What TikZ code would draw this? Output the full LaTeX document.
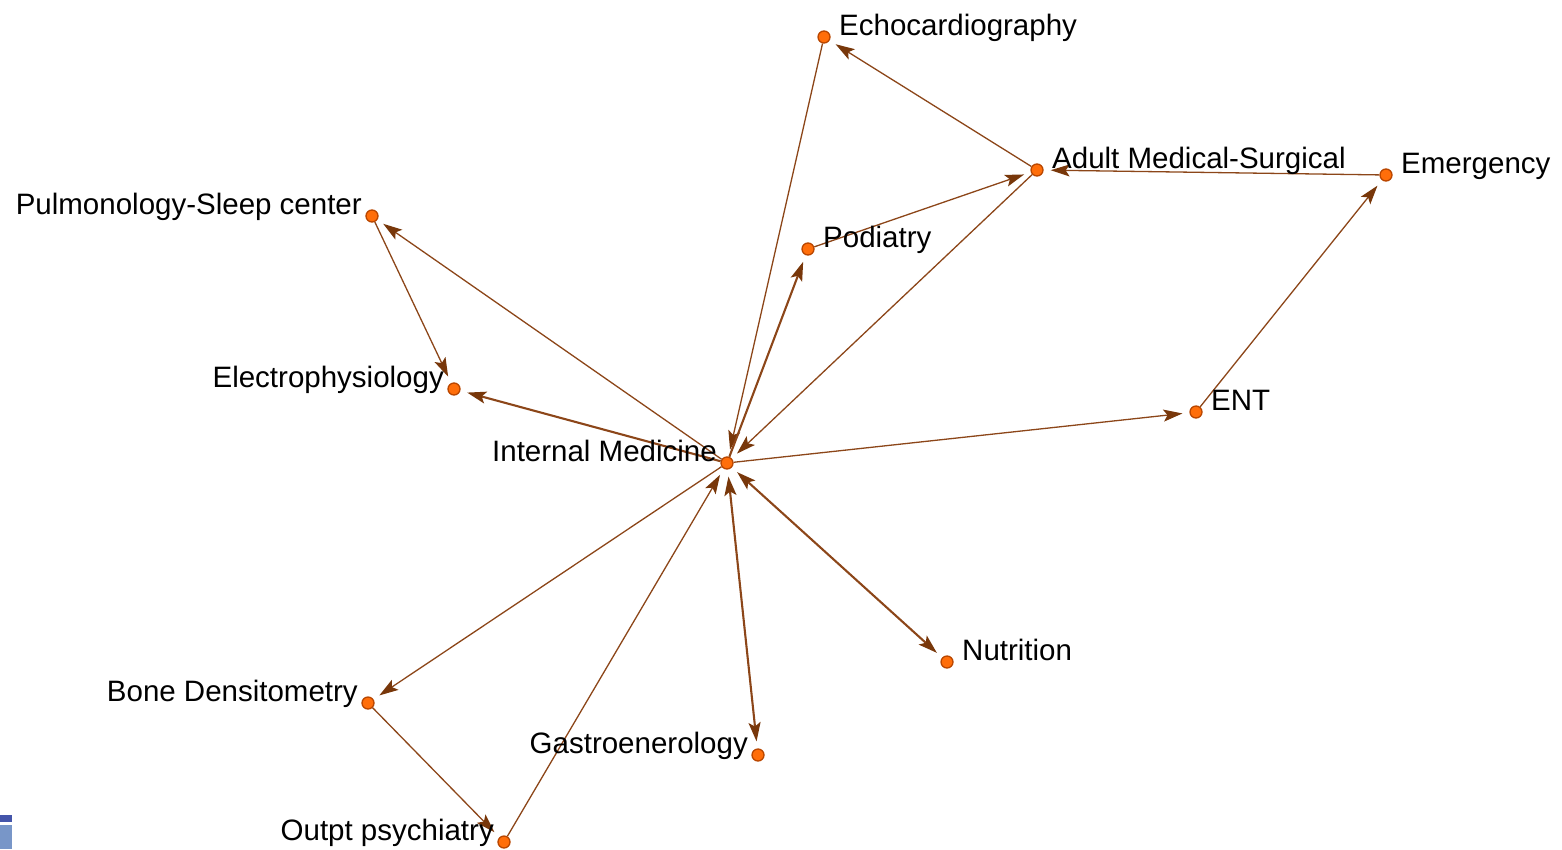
\documentclass[tikz,border=0pt]{standalone}
\usepackage{fontspec}
\setmainfont{Liberation Sans}
\usetikzlibrary{arrows.meta}
\pgfdeclarelayer{background}
\pgfsetlayers{background,main}
\definecolor{edgec}{RGB}{140,70,25}
\definecolor{tipc}{RGB}{120,55,10}
\definecolor{nodef}{RGB}{255,110,10}
\definecolor{noded}{RGB}{185,70,0}
\definecolor{blueA}{RGB}{68,85,170}
\definecolor{blueB}{RGB}{120,150,200}
\tikzset{
  vert/.style={circle, fill=nodef, draw=noded, line width=1.3pt, minimum size=12pt, inner sep=0pt},
  lab/.style={inner sep=0pt, font=\fontsize{29.5}{35}\selectfont},
  rl/.style={lab, anchor=base west},
  ll/.style={lab, anchor=base east},
  tip/.tip={Stealth[length=19pt,width=12pt,inset=4pt,color=tipc]},
  edge/.style={draw=edgec, line width=1.3pt, -tip, shorten >=7pt},
  heavy/.style={line width=2.1pt},
  twoway/.style={tip-tip, shorten <=7pt}
}
\begin{document}
\begin{tikzpicture}[x=1pt,y=-1pt]
\useasboundingbox (0,0) rectangle (1562,849);
\fill[blueA] (0,815) rectangle (12,822);
\fill[blueB] (0,825) rectangle (12,849);

\node[vert] (echo) at (824,37) {};
\node[vert] (ams) at (1037,170) {};
\node[vert] (emer) at (1386,175) {};
\node[vert] (pulm) at (372,216) {};
\node[vert] (pod) at (808,249) {};
\node[vert] (elec) at (454,389) {};
\node[vert] (ent) at (1196,412) {};
\node[vert] (im) at (727,463) {};
\node[vert] (nut) at (947,662) {};
\node[vert] (bone) at (368,703) {};
\node[vert] (gas) at (758,755) {};
\node[vert] (out) at (504,842) {};

\node[rl] (lecho) at (839,35) {Echocardiography};
\node[rl] (lams) at (1052,168) {Adult Medical-Surgical};
\node[rl] (lemer) at (1401,173) {Emergency};
\node[ll] (lpulm) at (362,214) {Pulmonology-Sleep center};
\node[rl] (lpod) at (823,247) {Podiatry};
\node[ll] (lelec) at (444,387) {Electrophysiology};
\node[rl] (lent) at (1211,410) {ENT};
\node[ll] (lim) at (717,461) {Internal Medicine};
\node[rl] (lnut) at (962,660) {Nutrition};
\node[ll] (lbone) at (358,701) {Bone Densitometry};
\node[ll] (lgas) at (748,753) {Gastroenerology};
\node[ll] (lout) at (494,840) {Outpt psychiatry};

\begin{pgfonlayer}{background}
\draw[edge] (ams) -- (echo);
\draw[edge] (echo) -- (im);
\draw[edge] (emer) -- (ams);
\draw[edge] (pod) -- (ams);
\draw[edge] (ams) -- (im);
\draw[edge,heavy] (im) -- (pod);
\draw[edge] (im) -- (pulm);
\draw[edge] (pulm) -- (elec);
\draw[edge,heavy] (im) -- (elec);
\draw[edge] (im) -- (ent);
\draw[edge] (ent) -- (emer);
\draw[edge,heavy,twoway] (im) -- (nut);
\draw[edge,heavy,twoway] (im) -- (gas);
\draw[edge] (im) -- (bone);
\draw[edge] (bone) -- (out);
\draw[edge] (out) -- (im);
\end{pgfonlayer}
\end{tikzpicture}
\end{document}
